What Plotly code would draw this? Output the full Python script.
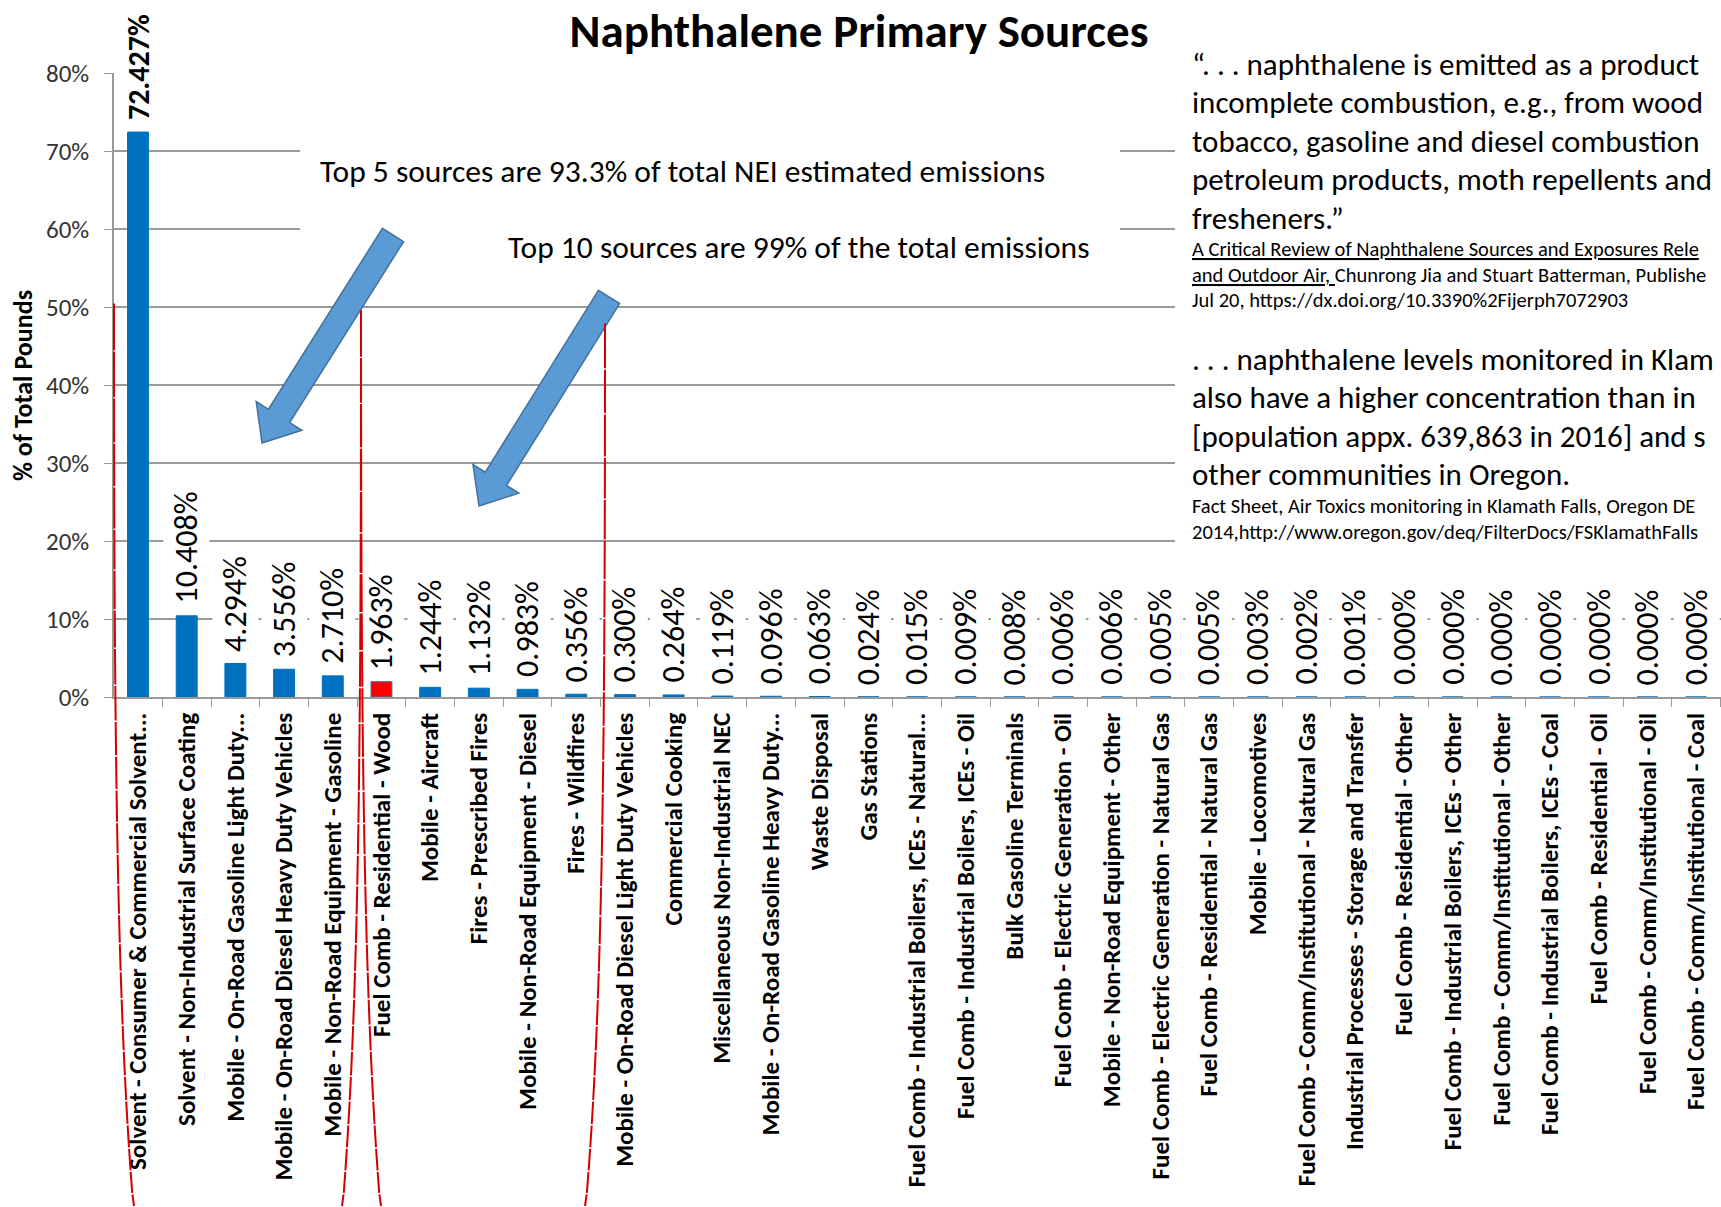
import math
import plotly.graph_objects as go

# ---- data (percent of total pounds) ----
sources = [
    "Solvent - Consumer & Commercial Solvent...",
    "Solvent - Non-Industrial Surface Coating",
    "Mobile - On-Road Gasoline Light Duty...",
    "Mobile - On-Road Diesel Heavy Duty Vehicles",
    "Mobile - Non-Road Equipment - Gasoline",
    "Fuel Comb - Residential - Wood",
    "Mobile - Aircraft",
    "Fires - Prescribed Fires",
    "Mobile - Non-Road Equipment - Diesel",
    "Fires - Wildfires",
    "Mobile - On-Road Diesel Light Duty Vehicles",
    "Commercial Cooking",
    "Miscellaneous Non-Industrial NEC",
    "Mobile - On-Road Gasoline Heavy Duty...",
    "Waste Disposal",
    "Gas Stations",
    "Fuel Comb - Industrial Boilers, ICEs - Natural...",
    "Fuel Comb - Industrial Boilers, ICEs - Oil",
    "Bulk Gasoline Terminals",
    "Fuel Comb - Electric Generation - Oil",
    "Mobile - Non-Road Equipment - Other",
    "Fuel Comb - Electric Generation - Natural Gas",
    "Fuel Comb - Residential - Natural Gas",
    "Mobile - Locomotives",
    "Fuel Comb - Comm/Institutional - Natural Gas",
    "Industrial Processes - Storage and Transfer",
    "Fuel Comb - Residential - Other",
    "Fuel Comb - Industrial Boilers, ICEs - Other",
    "Fuel Comb - Comm/Institutional - Other",
    "Fuel Comb - Industrial Boilers, ICEs - Coal",
    "Fuel Comb - Residential - Oil",
    "Fuel Comb - Comm/Institutional - Oil",
    "Fuel Comb - Comm/Institutional - Coal",
]
pct_of_total = [
    72.427, 10.408, 4.294, 3.556, 2.710, 1.963, 1.244, 1.132, 0.983, 0.356,
    0.300, 0.264, 0.119, 0.096, 0.063, 0.024, 0.015, 0.009, 0.008, 0.006,
    0.006, 0.005, 0.005, 0.003, 0.002, 0.001, 0.000, 0.000, 0.000, 0.000,
    0.000, 0.000, 0.000,
]
highlighted = "Fuel Comb - Residential - Wood"
y_ticks = [0, 10, 20, 30, 40, 50, 60, 70, 80]
y_tick_labels = [f"{v}%" for v in y_ticks]

quote_lines = [
    "\u201c. . . naphthalene is emitted as a product",
    "incomplete combustion, e.g., from wood",
    "tobacco, gasoline and diesel combustion",
    "petroleum products, moth repellents and",
    "fresheners.\u201d",
]
quote_cite = [
    "<u>A Critical Review of Naphthalene Sources and Exposures Rele</u>",
    "<u>and Outdoor Air, </u>Chunrong Jia and Stuart Batterman, Publishe",
    "Jul 20, https://dx.doi.org/10.3390%2Fijerph7072903",
]
klamath_lines = [
    ". . . naphthalene levels monitored in Klam",
    "also have a higher concentration than in",
    "[population appx. 639,863 in 2016] and s",
    "other communities in Oregon.",
]
klamath_cite = [
    "Fact Sheet, Air Toxics monitoring in Klamath Falls, Oregon DE",
    "2014,http://www.oregon.gov/deq/FilterDocs/FSKlamathFalls",
]

FONT = "Calibri, Carlito, Lato, sans-serif"
BLUE = "#0070C0"
GRID = "#9a9a9a"
RED_LINE = "#D40000"

W, H = 1721, 1207
L, R, T, B = 114, 0, 73, 510
PW, PH = W - L - R, H - T - B


def paper(x, y):
    # figure pixels -> paper coordinates
    return (x - L) / PW, (H - B - y) / PH


def path_from(points):
    s = ""
    for i, (x, y) in enumerate(points):
        px, py = paper(x, y)
        s += ("M" if i == 0 else "L") + f"{px:.5f},{py:.5f} "
    return s + "Z"


def bezier_pts(p0, c1, c2, p1, n=28):
    pts = []
    for k in range(n + 1):
        t = k / n
        a, b, c, d = (1 - t) ** 3, 3 * (1 - t) ** 2 * t, 3 * (1 - t) * t ** 2, t ** 3
        pts.append((a * p0[0] + b * c1[0] + c * c2[0] + d * p1[0],
                    a * p0[1] + b * c1[1] + c * c2[1] + d * p1[1]))
    return pts


def block_arrow(tail, tip, shaft=25, head=54, head_len=32):
    dx, dy = tip[0] - tail[0], tip[1] - tail[1]
    n = math.hypot(dx, dy)
    ux, uy = dx / n, dy / n
    nx, ny = -uy, ux
    neck = (tip[0] - ux * head_len, tip[1] - uy * head_len)
    pts = [
        (tail[0] + nx * shaft / 2, tail[1] + ny * shaft / 2),
        (neck[0] + nx * shaft / 2, neck[1] + ny * shaft / 2),
        (neck[0] + nx * head / 2, neck[1] + ny * head / 2),
        tip,
        (neck[0] - nx * head / 2, neck[1] - ny * head / 2),
        (neck[0] - nx * shaft / 2, neck[1] - ny * shaft / 2),
        (tail[0] - nx * shaft / 2, tail[1] - ny * shaft / 2),
    ]
    return path_from(pts)


colors = ["#FF0000" if s == highlighted else BLUE for s in sources]
edges = ["#41719C" if s == highlighted else BLUE for s in sources]

fig = go.Figure()
fig.add_trace(go.Bar(
    x=sources, y=pct_of_total,
    marker=dict(color=colors, line=dict(color=edges, width=1)),
    hoverinfo="x+y",
))

# data labels (rotated, white boxes hide the gridlines like the original)
annotations = []
for i, (s, v) in enumerate(zip(sources, pct_of_total)):
    txt = f"{v:.3f}%"
    size = 32
    if i == 0:
        txt = f"<b>{txt}</b>"
        size = 30
    annotations.append(dict(
        x=s, y=v, xref="x", yref="y", text=txt, showarrow=False,
        textangle=-90, xanchor="center", yanchor="bottom", yshift=8,
        bgcolor="white", borderpad=3,
        font=dict(family=FONT, size=size, color="black"),
    ))

# axis title
ax, ay = paper(23, 386)
annotations.append(dict(
    x=ax, y=ay, xref="paper", yref="paper", text="<b>% of Total Pounds</b>",
    showarrow=False, textangle=-90, xanchor="center", yanchor="middle",
    font=dict(family=FONT, size=26, color="black"),
))

# callouts in the chart
for text, px, py in [
    ("Top 5 sources are 93.3% of total NEI estimated emissions", 318, 171),
    ("Top 10 sources are 99% of the total emissions", 506, 247),
]:
    x0, y0 = paper(px, py)
    annotations.append(dict(
        x=x0, y=y0, xref="paper", yref="paper", text=text, showarrow=False,
        xanchor="left", yanchor="middle",
        font=dict(family=FONT, size=31.5, color="black"),
    ))

# quotes on the right
rows = []
for k, t in enumerate(quote_lines):
    rows.append((t, 64 + k * 38.4, 31))
for k, t in enumerate(quote_cite):
    rows.append((t, 249 + k * 25.5, 20.5))
for k, t in enumerate(klamath_lines):
    rows.append((t, 359 + k * 38.4, 31))
for k, t in enumerate(klamath_cite):
    rows.append((t, 506 + k * 25.5, 20.5))
for t, py, size in rows:
    x0, y0 = paper(1190, py)
    annotations.append(dict(
        x=x0, y=y0, xref="paper", yref="paper", text=t, showarrow=False,
        xanchor="left", yanchor="middle",
        font=dict(family=FONT, size=size, color="black"),
    ))

# red grouping outlines, drawn as line segments on top of the data labels
for curve in [
    ((114, 302), (114, 760), (117, 1010), (134, 1215)),
    ((361, 309), (361, 760), (359, 1010), (342, 1215)),
    ((361, 309), (361, 760), (364, 1010), (381, 1215)),
    ((605, 322), (605, 760), (603, 1010), (585, 1215)),
]:
    pts = bezier_pts(*curve)
    for (x0, y0), (x1, y1) in zip(pts[:-1], pts[1:]):
        hx, hy = paper(x1, y1)
        annotations.append(dict(
            x=hx, y=hy, xref="paper", yref="paper", text="",
            showarrow=True, arrowhead=0, arrowwidth=2, arrowcolor=RED_LINE,
            ax=x0 - x1, ay=y0 - y1, axref="pixel", ayref="pixel",
            standoff=0, startstandoff=0,
        ))

shapes = []
# white text boxes covering the gridlines
for x0p, y0p, x1p, y1p in [(300, 112, 1120, 270), (1175, 40, W + 5, 584)]:
    a, b = paper(x0p, y1p)
    c, d = paper(x1p, y0p)
    shapes.append(dict(type="rect", xref="paper", yref="paper", x0=a, y0=b, x1=c, y1=d,
                       fillcolor="white", line=dict(width=0), layer="above"))

# blue block arrows
for tail, tip in [((393, 235), (262, 443)), ((609, 297), (479, 506))]:
    shapes.append(dict(type="path", xref="paper", yref="paper",
                       path=block_arrow(tail, tip),
                       fillcolor="#5B9BD5", line=dict(color="#41719C", width=1.5),
                       layer="above"))

fig.update_layout(
    width=W, height=H,
    margin=dict(l=L, r=R, t=T, b=B),
    paper_bgcolor="white", plot_bgcolor="white",
    showlegend=False,
    bargap=0.57,
    title=dict(text="<b>Naphthalene Primary Sources</b>", x=859 / W, y=1 - 31 / H,
               xanchor="center", yanchor="middle",
               font=dict(family=FONT, size=47, color="black")),
    font=dict(family=FONT, color="black"),
    annotations=annotations,
    shapes=shapes,
)
fig.update_xaxes(
    range=[-0.493, 32.51], tickangle=-90, showgrid=False,
    showline=True, linecolor=GRID, linewidth=1.5,
    ticks="outside", tickson="boundaries", ticklen=8, tickcolor=GRID,
    ticklabelstandoff=4,
    tickfont=dict(family=FONT, size=25, color="black", weight="bold"),
    automargin=False,
)
fig.update_yaxes(
    range=[0, 80], tickvals=y_ticks, ticktext=y_tick_labels,
    showgrid=True, gridcolor=GRID, gridwidth=1.5, zeroline=False,
    showline=True, linecolor=GRID, linewidth=1.5,
    ticks="outside", ticklen=8, tickcolor=GRID, ticklabelstandoff=10,
    tickfont=dict(family=FONT, size=25, color="#333333"),
    automargin=False,
)

# the page body has an 8px default margin; drop it so the figure sits at 0,0
fig.write_html("out.html", config={"displayModeBar": False},
               post_script="document.body.style.margin='0px';")
